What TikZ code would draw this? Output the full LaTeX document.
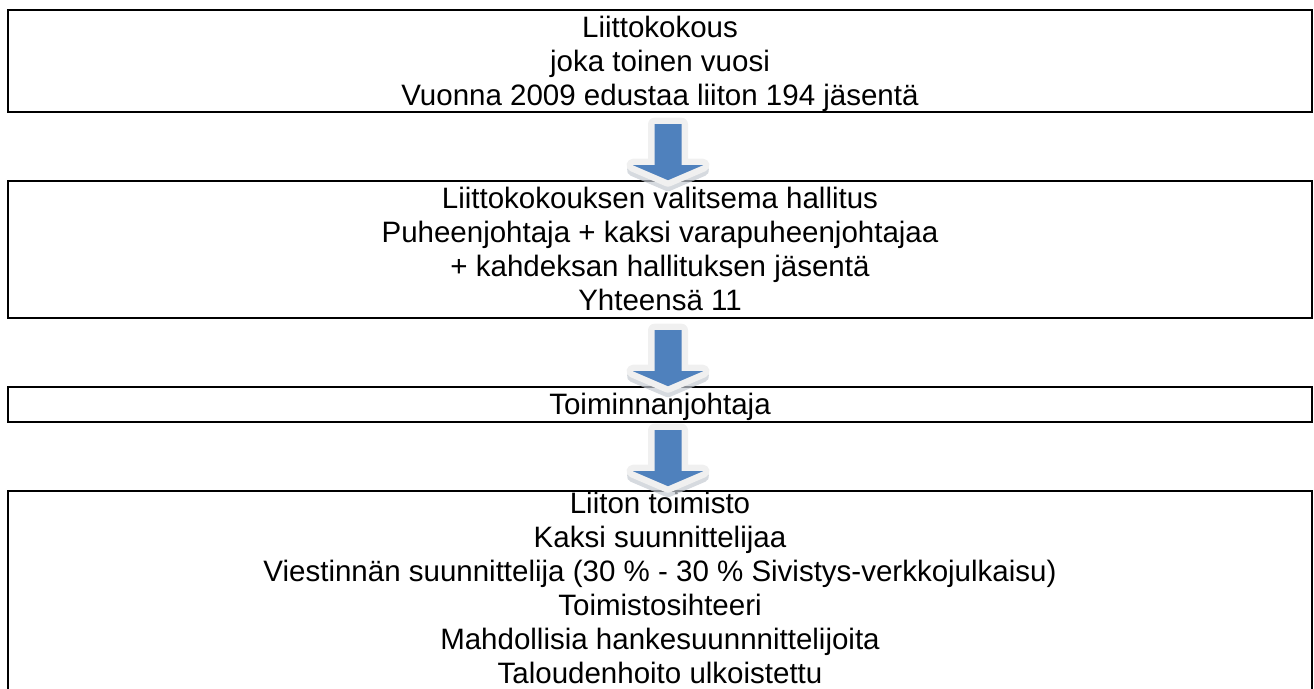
\documentclass[tikz,border=0pt]{standalone}
\usepackage{fontspec}
\setmainfont{Liberation Sans}
\usetikzlibrary{calc}
\definecolor{arrowblue}{HTML}{4F81BD}
\definecolor{glow}{HTML}{F0F0F0}
\definecolor{shadowgrey}{HTML}{C4CAD2}
\newcommand{\ls}{\rule[-6.8pt]{0pt}{34pt}}
\tikzset{
  box/.style={draw=black, line width=2.2pt, minimum width=1304pt, inner sep=0pt, anchor=north,
    align=center, font=\fontsize{29.5}{34}\selectfont},
  boxtext/.style={inner sep=0pt, anchor=north, align=center, font=\fontsize{29.5}{34}\selectfont},
  blockarr/.pic={
    \path[draw=shadowgrey, line width=12pt, line join=round, fill=shadowgrey, opacity=0.7, shift={(0,5)}]
      (-13.5,0) -- (13.5,0) -- (13.5,41) -- (35,41) -- (0,56) -- (-35,41) -- (-13.5,41) -- cycle;
    \path[draw=glow, line width=13pt, line join=round, fill=glow]
      (-13.5,0) -- (13.5,0) -- (13.5,41) -- (35,41) -- (0,56) -- (-35,41) -- (-13.5,41) -- cycle;
    \fill[arrowblue]
      (-13.5,0) -- (13.5,0) -- (13.5,41) -- (35,41) -- (0,56) -- (-35,41) -- (-13.5,41) -- cycle;
  }
}
\begin{document}
\begin{tikzpicture}[x=1pt, y=-1pt]
  \useasboundingbox (0,0) rectangle (1314,688);
  \clip (0,0) rectangle (1314,688);
  % boxes
  \node[box, minimum height=102.5pt] (b1) at (660,8.5)
    {\ls Liittokokous\\\ls joka toinen vuosi\\\ls Vuonna 2009 edustaa liiton 194 jäsentä};
  \node[box, minimum height=137pt] (b2) at (660,180)
    {\ls Liittokokouksen valitsema hallitus\\\ls Puheenjohtaja + kaksi varapuheenjohtajaa\\\ls + kahdeksan hallituksen jäsentä\\\ls Yhteensä 11};
  \node[box, minimum height=35pt] (b3) at (660,386) {\ls Toiminnanjohtaja};
  \node[box, minimum height=205pt] (b4) at (660,490) {};
  \node[boxtext] (t4) at ($(b4.north)+(0,-3.5)$)
    {\ls Liiton toimisto\\\ls Kaksi suunnittelijaa\\\ls Viestinnän suunnittelija (30 \% - 30 \% Sivistys-verkkojulkaisu)\\\ls Toimistosihteeri\\\ls Mahdollisia hankesuunnnittelijoita\\\ls Taloudenhoito ulkoistettu};
  % block arrows
  \coordinate (a1) at ($(b1.south)+(8,11)$);
  \coordinate (a2) at ($(b2.south)+(8,11)$);
  \coordinate (a3) at ($(b3.south)+(8,7)$);
  \pic at (a1) {blockarr};
  \pic at (a2) {blockarr};
  \pic at (a3) {blockarr};
\end{tikzpicture}
\end{document}
